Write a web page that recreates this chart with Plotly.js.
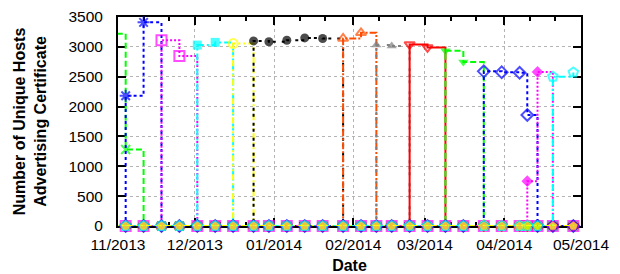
<!DOCTYPE html>
<html><head><meta charset="utf-8">
<script src="https://cdn.plot.ly/plotly-3.0.1.min.js"></script>
<style>html,body{margin:0;padding:0;background:#fff;} #chart{width:620px;height:274px;}</style>
</head><body><div id="chart"></div>
<script>
// scan dates (weekly-ish measurements)
const scanDates = ['2013-10-28','2013-11-04','2013-11-11','2013-11-18','2013-11-25','2013-12-02','2013-12-09','2013-12-16','2013-12-24','2013-12-30','2014-01-06','2014-01-13','2014-01-20','2014-01-28','2014-02-04','2014-02-10','2014-02-16','2014-02-23','2014-03-02','2014-03-09','2014-03-16','2014-03-24','2014-03-31','2014-04-07','2014-04-10','2014-04-14','2014-04-20','2014-04-28'];

// one array per certificate (number of hosts advertising it)
const cert02 = [3220,1280,0,0,0,0,0,0,0,0,0,0,0,0,0,0,0,0,0,0,0,0,0,0,0,0,0,0];
const cert03 = [0,2180,3410,0,0,0,0,0,0,0,0,0,0,0,0,0,0,0,0,0,0,0,0,0,0,0,0,0];
const cert04 = [0,0,0,3110,2845,0,0,0,0,0,0,0,0,0,0,0,0,0,0,0,0,0,0,0,0,0,0,0];
const cert05 = [0,0,0,0,0,3030,3075,0,0,0,0,0,0,0,0,0,0,0,0,0,0,0,0,0,0,0,0,0];
const cert06 = [0,0,0,0,0,0,0,3055,0,0,0,0,0,0,0,0,0,0,0,0,0,0,0,0,0,0,0,0];
const cert07 = [0,0,0,0,0,0,0,0,3100,3085,3110,3150,3140,0,0,0,0,0,0,0,0,0,0,0,0,0,0,0];
const cert08 = [0,0,0,0,0,0,0,0,0,0,0,0,0,3140,3235,0,0,0,0,0,0,0,0,0,0,0,0,0];
const cert09 = [0,0,0,0,0,0,0,0,0,0,0,0,0,0,0,3030,3015,0,0,0,0,0,0,0,0,0,0,0];
const cert10 = [0,0,0,0,0,0,0,0,0,0,0,0,0,0,0,0,0,3040,2990,0,0,0,0,0,0,0,0,0];
const cert11 = [0,0,0,0,0,0,0,0,0,0,0,0,0,0,0,0,0,0,0,2935,2745,0,0,0,0,0,0,0];
const cert12 = [0,0,0,0,0,0,0,0,0,0,0,0,0,0,0,0,0,0,0,0,0,2590,2575,2565,1860,0,0,0];
const cert13 = [0,0,0,0,0,0,0,0,0,0,0,0,0,0,0,0,0,0,0,0,0,0,0,0,750,2580,0,0];
const cert14 = [0,0,0,0,0,0,0,0,0,0,0,0,0,0,0,0,0,0,0,0,0,0,0,0,0,0,2500,2570];
const cert15 = [0,0,0,0,0,0,0,0,0,0,0,0,0,0,0,0,0,0,0,0,0,0,0,0,0,0,0,0];

const xStart = '2013-11-01', xEnd = '2014-05-01';
const yTicks = [0,500,1000,1500,2000,2500,3000,3500];

const series = [cert02,cert03,cert04,cert05,cert06,cert07,cert08,cert09,cert10,cert11,cert12,cert13,cert14,cert15];
const styles = [
  {c:'#00ff00', s:'x-thin-open', d:'6px,3px', open:true, sz:9},
  {c:'#0000ff', s:'asterisk-open', d:'3px,3px', open:true, sz:10},
  {c:'#ff00ff', s:'square-open', d:'2px,2px', open:true, sz:10},
  {c:'#00ffff', s:'square', d:'7px,3px,2px,3px', open:false, sz:9},
  {c:'#ffff00', s:'circle-open', d:'6px,3px,2px,3px,2px,3px', open:true, sz:9},
  {c:'#000000', s:'circle', d:'3px,3px,3px,6px', open:false, sz:9},
  {c:'#ff4d00', s:'triangle-up-open', d:'7px,2px,2px,2px', open:true, sz:9},
  {c:'#808080', s:'triangle-up', d:'3px,3px,3px,3px,3px,8px', open:false, sz:9},
  {c:'#ff0000', s:'triangle-down-open', d:'solid', open:true, sz:9},
  {c:'#00ff00', s:'triangle-down', d:'6px,3px', open:false, sz:9},
  {c:'#0000ff', s:'diamond-open', d:'3px,3px', open:true, sz:9},
  {c:'#ff00ff', s:'diamond', d:'2px,2px', open:false, sz:9},
  {c:'#00ffff', s:'pentagon-open', d:'7px,3px,2px,3px', open:true, sz:10},
  {c:'#ffff00', s:'pentagon', d:'6px,3px,2px,3px,2px,3px', open:false, sz:9}
];

const traces = series.map((vals, i) => {
  const st = styles[i];
  return {
    type:'scatter', mode:'lines+markers', x: scanDates, y: vals,
    line:{shape:'hv', color:st.c, width:2, dash:st.d},
    marker:{symbol:st.s, color:st.c, size: scanDates.map(d => d < xStart ? 0 : st.sz),
            line:{color:st.c, width: st.open ? 2 : 0}},
    cliponaxis:false, showlegend:false, hoverinfo:'skip'
  };
});

// minor ticks: roughly thirds of each month (days 11 and 21)
const minorTicks = [];
for (let d = new Date(xStart + 'T00:00:00Z'); d < new Date(xEnd + 'T00:00:00Z'); d.setUTCMonth(d.getUTCMonth() + 1)) {
  const y = d.getUTCFullYear(), m = String(d.getUTCMonth() + 1).padStart(2, '0');
  minorTicks.push(`${y}-${m}-11`, `${y}-${m}-21`);
}

const tickFont = {family:'Liberation Sans, Arial, sans-serif', size:15.5, color:'#000'};
const titleFont = {family:'Liberation Sans, Arial, sans-serif', size:16, color:'#000', weight:'bold'};

const layout = {
  width:620, height:274,
  margin:{l:118, r:39, t:17, b:48},
  paper_bgcolor:'#fff', plot_bgcolor:'#fff',
  xaxis:{
    type:'date', range:[xStart, xEnd], tick0:xStart, dtick:'M1', tickformat:'%m/%Y',
    ticks:'inside', ticklen:8, tickwidth:2, tickcolor:'#000',
    showline:true, linewidth:2, linecolor:'#000', mirror:'allticks',
    showgrid:true, gridcolor:'#b4b4b4', gridwidth:1, griddash:'dot', zeroline:false,
    tickfont:tickFont, ticklabelstandoff:3,
    minor:{tickmode:'array', tickvals:minorTicks, ticks:'inside', ticklen:4, tickwidth:2, tickcolor:'#000', showgrid:false},
    title:{text:'Date', font:titleFont, standoff:10},
    layer:'below traces'
  },
  yaxis:{
    range:[0,3500], tickmode:'array', tickvals:yTicks, ticktext:yTicks.map(String),
    ticks:'inside', ticklen:8, tickwidth:2, tickcolor:'#000',
    showline:true, linewidth:2, linecolor:'#000', mirror:'allticks',
    showgrid:true, gridcolor:'#b4b4b4', gridwidth:1, griddash:'dot', zeroline:false,
    tickfont:tickFont, ticklabelstandoff:10,
    title:{text:'Number of Unique Hosts<br>Advertising Certificate', font:titleFont, standoff:18},
    layer:'below traces'
  }
};

Plotly.newPlot('chart', traces, layout, {displayModeBar:false, staticPlot:true});
</script>
</body></html>
